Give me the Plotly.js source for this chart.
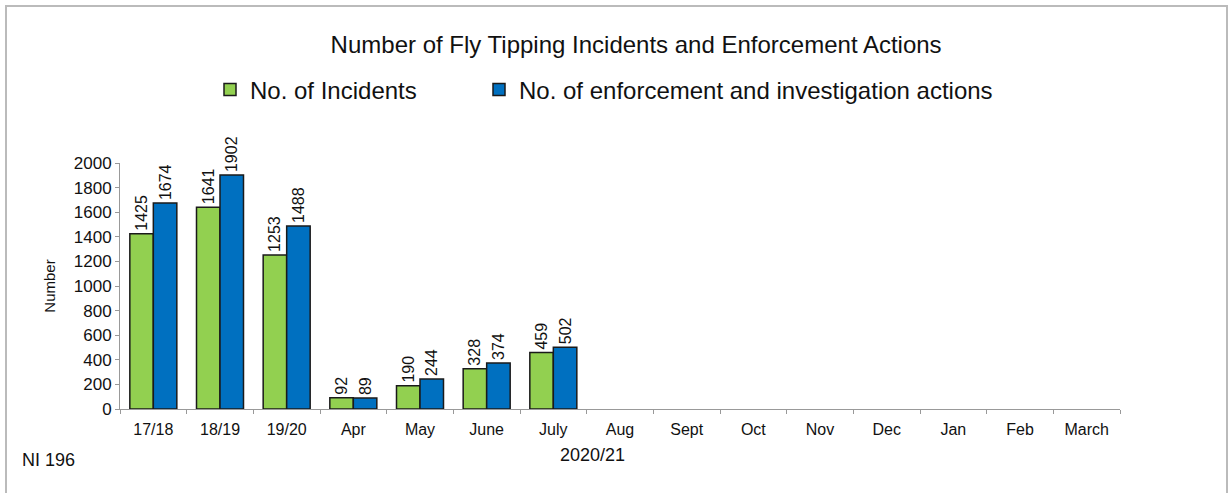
<!DOCTYPE html>
<html>
<head>
<meta charset="utf-8">
<script src="https://cdn.plot.ly/plotly-3.0.1.min.js"></script>
<style>html,body{margin:0;padding:0;background:#fff;}#chart{width:1228px;height:493px;}</style>
</head>
<body>
<div id="chart"></div>
<script>
var categories = ["17/18","18/19","19/20","Apr","May","June","July","Aug","Sept","Oct","Nov","Dec","Jan","Feb","March"];
var incidents = [1425, 1641, 1253, 92, 190, 328, 459, null, null, null, null, null, null, null, null];
var actions = [1674, 1902, 1488, 89, 244, 374, 502, null, null, null, null, null, null, null, null];
var yTicks = [0,200,400,600,800,1000,1200,1400,1600,1800,2000];

var font = "Liberation Sans, Arial, sans-serif";
function labels(arr){ return arr.map(function(v){ return v === null ? "" : String(v); }); }

var traces = [
  {type:"bar", name:"No. of Incidents", x:categories, y:incidents, legend:"legend",
   marker:{color:"#92D050", line:{color:"#1a1a1a", width:1.5}},
   text:labels(incidents), textposition:"outside", textangle:-90, constraintext:"none",
   textfont:{family:font, size:16, color:"#111"}, cliponaxis:false, hoverinfo:"skip"},
  {type:"bar", name:"No. of enforcement and investigation actions", x:categories, y:actions, legend:"legend2",
   marker:{color:"#0070C0", line:{color:"#1a1a1a", width:1.5}},
   text:labels(actions), textposition:"outside", textangle:-90, constraintext:"none",
   textfont:{family:font, size:16, color:"#111"}, cliponaxis:false, hoverinfo:"skip"}
];

var legendBase = {orientation:"h", xanchor:"left", y:1.297, yanchor:"middle",
  font:{family:font, size:24, color:"#111"}, itemwidth:30, bgcolor:"rgba(0,0,0,0)"};

var layout = {
  width:1228, height:493,
  margin:{l:120, r:108, t:163, b:84},
  paper_bgcolor:"#fff", plot_bgcolor:"#fff",
  font:{family:font, color:"#111"},
  title:{text:"Number of Fly Tipping Incidents and Enforcement Actions",
         font:{family:font, size:24, color:"#111"},
         x:0.518, xanchor:"center", y:0.909, yanchor:"middle"},
  barmode:"group", bargap:0.295, bargroupgap:0,
  showlegend:true,
  legend:Object.assign({}, legendBase, {x:0.09}),
  legend2:Object.assign({}, legendBase, {x:0.359}),
  xaxis:{type:"category", categoryarray:categories, showline:true, linecolor:"#999", linewidth:1,
         ticks:"outside", tickson:"boundaries", ticklen:4, tickcolor:"#999", ticklabelstandoff:6,
         tickfont:{family:font, size:16, color:"#111"}, showgrid:false, zeroline:false},
  yaxis:{range:[0,2000], tickvals:yTicks, showline:true, linecolor:"#999", linewidth:1,
         ticks:"outside", ticklen:4, tickcolor:"#999", showgrid:false, zeroline:false,
         tickfont:{family:font, size:17, color:"#111"},
         title:{text:"Number", font:{family:font, size:15, color:"#111"}, standoff:14}},
  annotations:[
    {text:"NI 196", xref:"paper", yref:"paper", x:-0.1, y:-0.207, xanchor:"left", yanchor:"middle",
     showarrow:false, font:{family:font, size:18, color:"#111"}},
    {text:"2020/21", xref:"paper", yref:"paper", x:0.472, y:-0.187, xanchor:"center", yanchor:"middle",
     showarrow:false, font:{family:font, size:18, color:"#111"}}
  ],
  shapes:[
    {type:"rect", xref:"paper", yref:"paper", x0:-0.114, x1:1.107, y0:-0.4, y1:1.638,
     line:{color:"#BBBBBB", width:2}, fillcolor:"rgba(0,0,0,0)", layer:"below"}
  ]
};

Plotly.newPlot("chart", traces, layout, {displayModeBar:false, staticPlot:true});
</script>
</body>
</html>
